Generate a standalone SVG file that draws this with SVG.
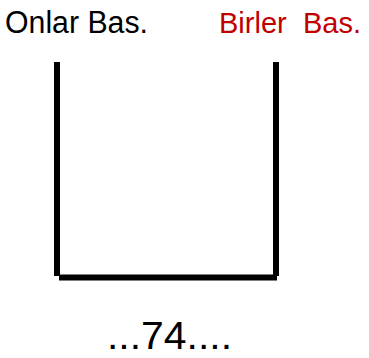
<svg xmlns="http://www.w3.org/2000/svg" width="369" height="358" viewBox="0 0 369 358">
<style>
.t{font-family:"Liberation Sans","DejaVu Sans",sans-serif;font-size:31px}
.ln{stroke:#000;stroke-width:6;fill:none}
</style>
<rect width="369" height="358" fill="#fff"/>
<g id="label-onlar"><text class="t" x="5" y="33" textLength="143" lengthAdjust="spacingAndGlyphs" fill="#000">Onlar Bas.</text></g>
<g id="label-birler"><text class="t" x="219" y="33" textLength="142" lengthAdjust="spacingAndGlyphs" fill="#c00000" xml:space="preserve" style="font-size:29px">Birler  Bas.</text></g>
<g id="connectors">
<line class="ln" x1="57" y1="62" x2="57" y2="276"/>
<line class="ln" x1="276" y1="62" x2="276" y2="276"/>
<line class="ln" x1="59" y1="277.5" x2="277" y2="277.5"/>
</g>
<g id="number"><text x="107" y="349" textLength="125" lengthAdjust="spacingAndGlyphs" style="font-family:'Liberation Sans','DejaVu Sans',sans-serif;font-size:39px" fill="#000">...74....</text></g>
</svg>
